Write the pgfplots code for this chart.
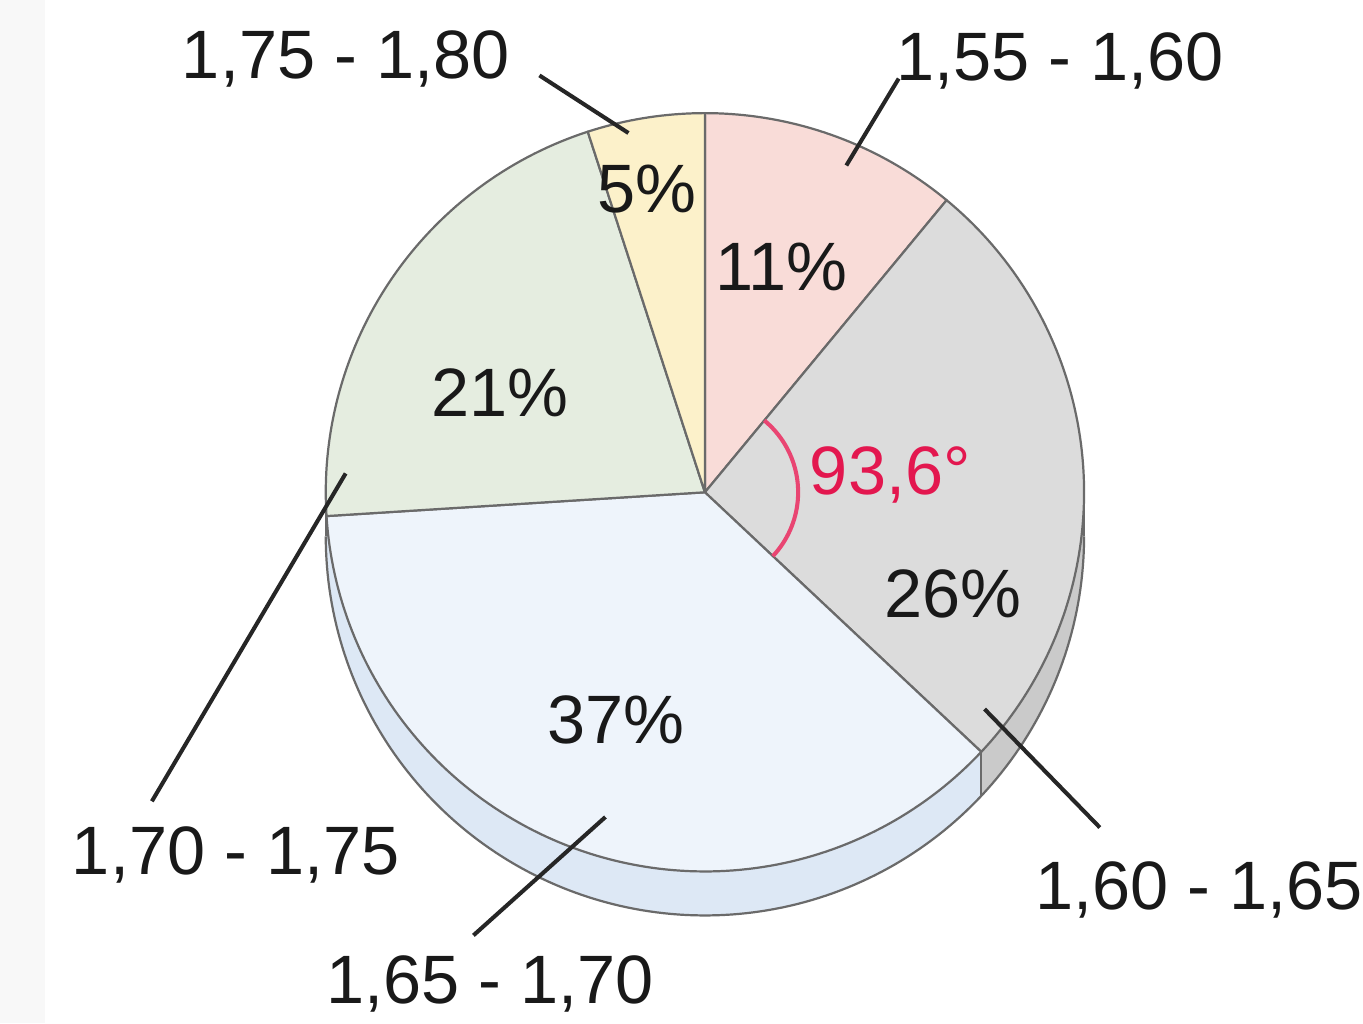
\documentclass[border=0pt]{standalone}
\usepackage{pgfplots}
\pgfplotsset{compat=1.18}
\usepgfplotslibrary{fillbetween}
\usepackage{fontspec}
\setmainfont{Liberation Sans}

\definecolor{cPink}{HTML}{F9DCD8}
\definecolor{cGrey}{HTML}{DCDCDC}
\definecolor{cBlue}{HTML}{EEF4FB}
\definecolor{cGreen}{HTML}{E5EDE0}
\definecolor{cYellow}{HTML}{FCF1CA}
\definecolor{cBlueSide}{HTML}{DDE8F5}
\definecolor{cGreySide}{HTML}{CACACA}
\definecolor{cGreenSide}{HTML}{D3DDCB}
\definecolor{cEdge}{HTML}{6A6A6A}
\definecolor{cAngle}{HTML}{E3174F}
\definecolor{cMargin}{HTML}{F8F8F8}

% centre, radius and thickness of the disc (drawing units)
\newcommand\cx{673}
\newcommand\cy{470}
\newcommand\R{362}
\newcommand\D{42}

% shares in percent, clockwise from twelve o'clock
\newcommand\pA{11} % 1,55 - 1,60
\newcommand\pB{26} % 1,60 - 1,65
\newcommand\pC{37} % 1,65 - 1,70
\newcommand\pD{21} % 1,70 - 1,75
\newcommand\pE{5}  % 1,75 - 1,80

\begin{document}
\begin{tikzpicture}
\pgfmathsetmacro\aA{90}
\pgfmathsetmacro\aB{\aA-3.6*\pA}
\pgfmathsetmacro\aC{\aB-3.6*\pB}
\pgfmathsetmacro\aD{\aC-3.6*\pC}
\pgfmathsetmacro\aE{\aD-3.6*\pD}
\pgfmathsetmacro\aF{\aE-3.6*\pE}
\begin{axis}[
  hide axis, scale only axis,
  width=13.63cm, height=9.77cm,
  xmin=0, xmax=1363, ymin=0, ymax=977,
  y dir=reverse, clip=false,
  every axis plot/.append style={line join=round},
]
% faint margin on the left
\addplot[fill=cMargin, draw=none] coordinates {(0,0) (43,0) (43,977) (0,977)} -- cycle;

% ---- side of the disc (lower half only) ----
\addplot[name path=tG, draw=none, domain=-180:\aD, samples=10] ({\cx+\R*cos(x)},{\cy-\R*sin(x)});
\addplot[name path=bG, draw=none, domain=-180:\aD, samples=10] ({\cx+\R*cos(x)},{\cy+\D-\R*sin(x)});
\addplot[fill=cGreenSide, draw=none] fill between[of=tG and bG];

\addplot[name path=tB, draw=none, domain=\aD:\aC, samples=120] ({\cx+\R*cos(x)},{\cy-\R*sin(x)});
\addplot[name path=bB, draw=none, domain=\aD:\aC, samples=120] ({\cx+\R*cos(x)},{\cy+\D-\R*sin(x)});
\addplot[fill=cBlueSide, draw=none] fill between[of=tB and bB];

\addplot[name path=tR, draw=none, domain=\aC:0, samples=40] ({\cx+\R*cos(x)},{\cy-\R*sin(x)});
\addplot[name path=bR, draw=none, domain=\aC:0, samples=40] ({\cx+\R*cos(x)},{\cy+\D-\R*sin(x)});
\addplot[fill=cGreySide, draw=none] fill between[of=tR and bR];

% outline of the side
\addplot[draw=cEdge, line width=0.6pt, domain=-180:0, samples=160] ({\cx+\R*cos(x)},{\cy+\D-\R*sin(x)});
\addplot[draw=cEdge, line width=0.6pt, domain=0:1, samples=2] ({\cx+\R*cos(\aC)},{\cy-\R*sin(\aC)+\D*x});
\addplot[draw=cEdge, line width=0.6pt, domain=0:1, samples=2] ({\cx+\R},{\cy+\D*x});
\addplot[draw=cEdge, line width=0.6pt, domain=0:1, samples=2] ({\cx-\R},{\cy+\D*x});

% ---- top face ----
\addplot[fill=cPink,   draw=cEdge, line width=0.6pt, domain=\aB:\aA, samples=40]  ({\cx+\R*cos(x)},{\cy-\R*sin(x)}) -- (axis cs:\cx,\cy) -- cycle;
\addplot[fill=cGrey,   draw=cEdge, line width=0.6pt, domain=\aC:\aB, samples=90]  ({\cx+\R*cos(x)},{\cy-\R*sin(x)}) -- (axis cs:\cx,\cy) -- cycle;
\addplot[fill=cBlue,   draw=cEdge, line width=0.6pt, domain=\aD:\aC, samples=120] ({\cx+\R*cos(x)},{\cy-\R*sin(x)}) -- (axis cs:\cx,\cy) -- cycle;
\addplot[fill=cGreen,  draw=cEdge, line width=0.6pt, domain=\aE:\aD, samples=70]  ({\cx+\R*cos(x)},{\cy-\R*sin(x)}) -- (axis cs:\cx,\cy) -- cycle;
\addplot[fill=cYellow, draw=cEdge, line width=0.6pt, domain=\aF:\aE, samples=20]  ({\cx+\R*cos(x)},{\cy-\R*sin(x)}) -- (axis cs:\cx,\cy) -- cycle;

% angle of the 26 % sector
\addplot[draw=cAngle!80, line width=1.1pt, domain=\aC:\aB, samples=40] ({\cx+89*cos(x)},{\cy-89*sin(x)});

% ---- leader lines ----
\addplot[black!85, line width=1.1pt] coordinates {(515,72) (600,127)};
\addplot[black!85, line width=1.1pt] coordinates {(858,75) (808,158)};
\addplot[black!85, line width=1.1pt] coordinates {(1050,790) (940,677)};
\addplot[black!85, line width=1.1pt] coordinates {(452,893) (578,780)};
\addplot[black!85, line width=1.1pt] coordinates {(145,765) (330,452)};

% ---- labels ----
\begin{scope}[every node/.style={anchor=base, inner sep=0pt, font=\fontsize{18.6}{22}\selectfont, text=black!90}]
\node at (axis cs:330,75)   {1,75 - 1,80};
\node at (axis cs:1012,77)  {1,55 - 1,60};
\node at (axis cs:1145,868) {1,60 - 1,65};
\node at (axis cs:468,958)  {1,65 - 1,70};
\node at (axis cs:225,835)  {1,70 - 1,75};

\node at (axis cs:618,203) {5\%};
\node at (axis cs:746,277) {11\%};
\node at (axis cs:477,398) {21\%};
\node at (axis cs:910,590) {26\%};
\node at (axis cs:588,710) {37\%};
\node[text=cAngle] at (axis cs:850,472) {93,6°};
\end{scope}
\end{axis}
\end{tikzpicture}
\end{document}
